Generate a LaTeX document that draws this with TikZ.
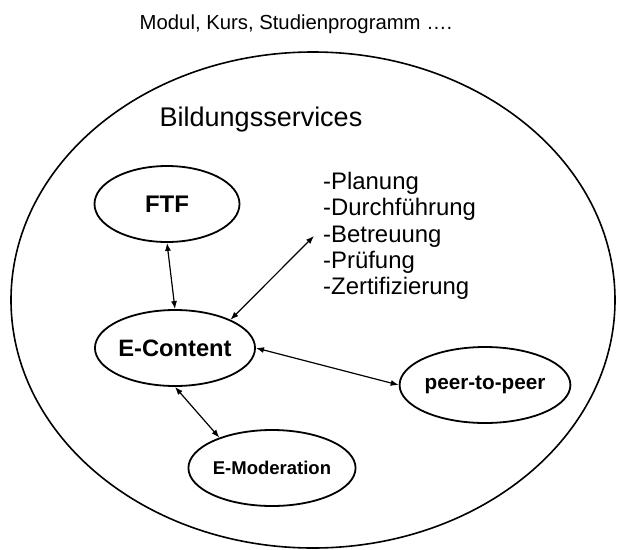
\documentclass[tikz,border=0pt]{standalone}
\usepackage{fontspec}
\setmainfont{Liberation Sans}
\usetikzlibrary{shapes.geometric, arrows.meta}

\begin{document}
\begin{tikzpicture}[x=1pt, y=-1pt,
    service/.style={ellipse, draw=black, line width=1.8pt,
                    minimum width=145pt, minimum height=76pt,
                    inner sep=0pt, text centered},
    arrow/.style={{Latex[length=8pt,width=6pt]}-{Latex[length=8pt,width=6pt]},
                  line width=1.2pt}
]
\useasboundingbox (0,0) rectangle (618,549);
\draw [line width=1.6pt] (313,300) ellipse [x radius=302, y radius=248];

\node (title) at (296,24) {\fontsize{20.3}{24}\selectfont Modul, Kurs, Studienprogramm ….};
\node (bild)  at (261,120) {\fontsize{27}{32}\selectfont Bildungsservices};

\node (ftf)      [service, font=\bfseries\fontsize{24}{28}\selectfont]     at (167,204) {FTF};
\node (econtent) [service, font=\bfseries\fontsize{23.7}{28}\selectfont]   at (175,348) {E-Content};
\node (peer)     [service, font=\bfseries\fontsize{20.7}{24}\selectfont]   at (485,385) {peer-to-peer};
\node (emod)     [service, font=\bfseries\fontsize{18.5}{22}\selectfont]   at (272,468) {E-Moderation};
\node (tasks) [anchor=west, align=left, inner xsep=9pt, inner ysep=2pt,
               font=\fontsize{23.9}{26.3}\selectfont] at (314,236)
      {-Planung\\-Durchführung\\-Betreuung\\-Prüfung\\-Zertifizierung};

\draw [arrow] (ftf.south)      -- (econtent.north);
\draw [arrow] (tasks.west)     -- (econtent.27);
\draw [arrow] (econtent.east)  -- (peer.west);
\draw [arrow] (econtent.south) -- (emod.150);
\end{tikzpicture}
\end{document}
